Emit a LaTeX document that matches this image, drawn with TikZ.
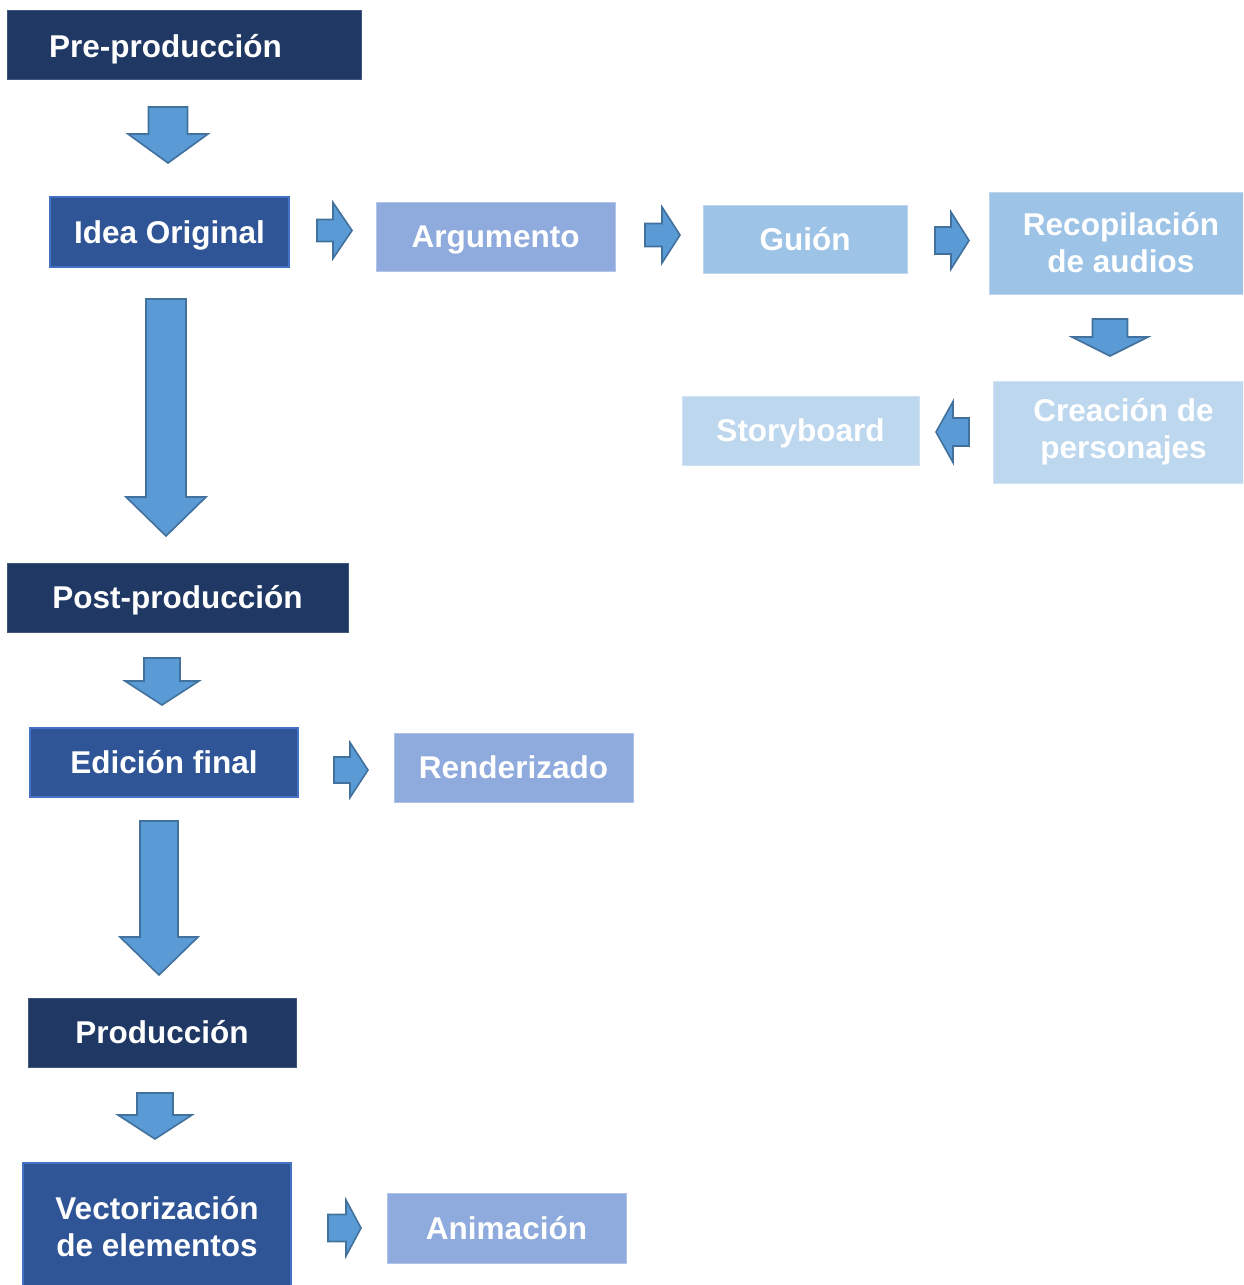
\documentclass[tikz,border=0pt]{standalone}
\usepackage{fontspec}
\setmainfont{Liberation Sans}
\definecolor{cdark}{HTML}{203864}
\definecolor{cmid}{HTML}{2F5597}
\definecolor{cmidb}{HTML}{4472C4}
\definecolor{carg}{HTML}{8FAADC}
\definecolor{cgui}{HTML}{9DC3E6}
\definecolor{cstory}{HTML}{BDD7EE}
\definecolor{carrow}{HTML}{5B9BD5}
\definecolor{carrowb}{HTML}{41719C}
\tikzset{
  boxbase/.style={rectangle, inner sep=0pt, text=white, align=center,
    font=\fontsize{31.5pt}{37pt}\selectfont\bfseries},
  box/.style={boxbase, text height=22.6pt, text depth=0pt},
  twoline/.style={boxbase},
  bdark/.style={fill=cdark, draw=cdark!85!white, line width=1pt},
  bmid/.style={fill=cmid, draw=cmidb, line width=2pt},
  barg/.style={fill=carg, draw=carg!70!white, line width=1pt},
  bgui/.style={fill=cgui, draw=cgui!70!white, line width=1pt},
  bstory/.style={fill=cstory, draw=cstory!70!white, line width=1pt},
  arrowsty/.style={fill=carrow, draw=carrowb, line width=1.6pt, line join=miter},
}
\newcommand\ArrDown[6]{%
  \filldraw[arrowsty] (#1-#5,#2) -- (#1+#5,#2) -- (#1+#5,#3) -- (#1+#6,#3) -- (#1,#4) -- (#1-#6,#3) -- (#1-#5,#3) -- cycle;}
\newcommand\ArrSide[6]{%
  \filldraw[arrowsty] (#2,#1-#5) -- (#3,#1-#5) -- (#3,#1-#6) -- (#4,#1) -- (#3,#1+#6) -- (#3,#1+#5) -- (#2,#1+#5) -- cycle;}
\begin{document}
\begin{tikzpicture}[x=1pt,y=-1pt]
\useasboundingbox (0,0) rectangle (1243,1285);
\clip (0,0) rectangle (1243,1285);
\fill[white] (0,0) rectangle (1243,1285);

% boxes
\node[box, bdark, minimum width=354pt, minimum height=69pt,
  label={[box, xshift=-18.5pt, yshift=-1.5pt]center:Pre-producción}] (pre) at (184,44.5) {};
\node[box, bmid, minimum width=239pt, minimum height=70pt] (idea) at (169.5,232) {Idea Original};
\node[box, barg, minimum width=239pt, minimum height=69pt] (arg) at (495.5,236.5) {Argumento};
\node[box, bgui, minimum width=204pt, minimum height=68pt] (guion) at (805,239) {Guión};
\node[twoline, bgui, minimum width=264pt, minimum height=102pt] (recop) at (1121,243) {Recopilación\\de audios};
\node[twoline, bstory, minimum width=261pt, minimum height=102pt] (crea) at (1123.5,432) {Creación de\\personajes};
\node[box, bstory, minimum width=237pt, minimum height=69pt] (story) at (800.5,430.5) {Storyboard};
\node[box, bdark, minimum width=341pt, minimum height=69pt] (post) at (177.5,597.5) {Post-producción};
\node[box, bmid, minimum width=268pt, minimum height=69pt] (edic) at (164,762.5) {Edición final};
\node[box, barg, minimum width=239pt, minimum height=69pt] (rend) at (513.5,767.5) {Renderizado};
\node[box, bdark, minimum width=268pt, minimum height=69pt] (prod) at (162,1032.5) {Producción};
\node[twoline, bmid, minimum width=268pt, minimum height=128pt] (vect) at (157,1227) {Vectorización\\de elementos};
\node[box, barg, minimum width=239pt, minimum height=70pt] (anim) at (506.5,1228) {Animación};

% block arrows
\ArrDown{168}{107}{134}{163}{19.5}{40}
\ArrSide{230.5}{317}{333}{352}{11}{28}
\ArrSide{235}{645}{662}{680}{11.5}{28}
\ArrSide{240.5}{935}{951}{969}{13.5}{28.5}
\ArrDown{1110}{319}{337}{356}{17.5}{38}
\ArrSide{432}{969}{953}{936}{14}{30.5}
\ArrDown{166}{299}{497}{536}{20}{40}
\ArrDown{162}{658}{681}{705}{18}{37}
\ArrSide{770}{334}{350}{368}{13}{27.5}
\ArrDown{159}{821}{937}{975}{19}{39}
\ArrDown{155}{1093}{1115}{1139}{18}{37}
\ArrSide{1228}{328}{346}{361}{13.5}{28}
\end{tikzpicture}
\end{document}
